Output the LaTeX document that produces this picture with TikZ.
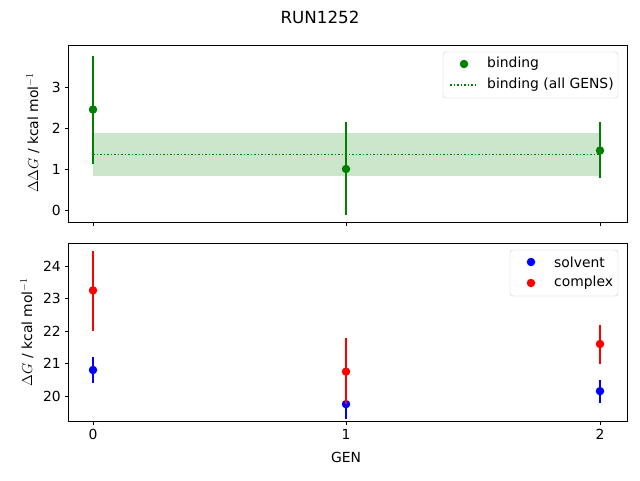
\documentclass[tikz,border=0pt]{standalone}
\usepackage{fontspec}
\setmainfont{DejaVu Sans}
\definecolor{mgreen}{RGB}{0,128,0}
\begin{document}
\begin{tikzpicture}[x=1pt,y=-1pt,
  lbl/.style={font=\fontsize{13.9}{16}\selectfont,inner sep=0pt},
  tick/.style={font=\fontsize{13.9}{16}\selectfont,inner sep=0pt},
  ax/.style={draw=black,line width=0.8pt},
  mk/.style={circle,fill=#1,inner sep=0pt,minimum size=8.5pt},
  eb/.style={draw=#1,line width=1.5pt}]
\useasboundingbox (0,0) rectangle (640,480);
\node[lbl] (title) at (320,17) {\fontsize{16.7}{19}\selectfont RUN1252};
% top axes
\def\ty#1{210-41*#1}
\fill[mgreen,opacity=0.2] (93,{\ty{0.83}}) rectangle (600,{\ty{1.88}});
\draw[mgreen,line width=1.5pt,dotted] (93,{\ty{1.35}}) -- (600,{\ty{1.35}});
\foreach \x/\m/\lo/\hi in {93/2.45/1.12/3.75,346/1.0/-0.12/2.15,600/1.45/0.78/2.15}{
  \draw[eb=mgreen] (\x,{\ty{\lo}}) -- (\x,{\ty{\hi}});
  \node[mk=mgreen] at (\x,{\ty{\m}}) {};}
\draw[ax] (68,45) rectangle (627,222);
\foreach \v in {0,1,2,3}{
  \draw (68,{\ty{\v}}) -- (64.5,{\ty{\v}});
  \node[tick,anchor=east] at (61,{\ty{\v}}) {\v};}
\foreach \x in {93,346,600} \draw (\x,222) -- (\x,225.5);
\node[lbl,rotate=90] (ylab1) at (33,133) {$\Delta\Delta G$ / kcal mol$^{-1}$};
% top legend
\draw[rounded corners=3pt,draw=black!20,fill=white] (443,52) rectangle (618,98);
\node[mk=mgreen] (l1) at (464,64) {};
\node[lbl,anchor=west] at (487,64) {binding};
\draw[mgreen,line width=1.5pt,dotted] (450,85) -- (478,85);
\node[lbl,anchor=west] at (487,85) {binding (all GENS)};
% bottom axes
\def\by#1{396-32.5*(#1-20)}
\foreach \x/\m/\lo/\hi in {93/20.8/20.4/21.2,346/19.75/19.3/20.2,600/20.15/19.8/20.5}{
  \draw[eb=blue] (\x,{\by{\lo}}) -- (\x,{\by{\hi}});
  \node[mk=blue] at (\x,{\by{\m}}) {};}
\foreach \x/\m/\lo/\hi in {93/23.25/22.0/24.45,346/20.75/19.75/21.8,600/21.6/21.0/22.2}{
  \draw[eb=red] (\x,{\by{\lo}}) -- (\x,{\by{\hi}});
  \node[mk=red] at (\x,{\by{\m}}) {};}
\draw[ax] (68,243) rectangle (627,421);
\foreach \v in {20,21,22,23,24}{
  \draw (68,{\by{\v}}) -- (64.5,{\by{\v}});
  \node[tick,anchor=east] at (61,{\by{\v}}) {\v};}
\foreach \x/\t in {93/0,346/1,600/2}{
  \draw (\x,421) -- (\x,424.5);
  \node[tick,anchor=north] at (\x,429) {\t};}
\node[lbl] (xlab) at (346,457) {GEN};
\node[lbl,rotate=90] (ylab2) at (27,332) {$\Delta G$ / kcal mol$^{-1}$};
% bottom legend
\draw[rounded corners=3pt,draw=black!20,fill=white] (510,250) rectangle (618,296);
\node[mk=blue] at (531,262) {};
\node[lbl,anchor=west] at (554,262) {solvent};
\node[mk=red] at (531,283) {};
\node[lbl,anchor=west] at (554,283) {complex};
\end{tikzpicture}
\end{document}
